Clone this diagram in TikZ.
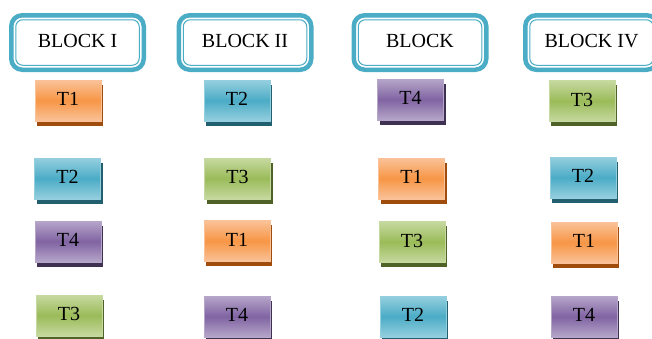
\documentclass[tikz,border=0pt]{standalone}
\usepackage{fontspec}
\setmainfont{Liberation Serif}
\usetikzlibrary{shadows}
\definecolor{frame}{HTML}{4BACC6}
\definecolor{orM}{HTML}{F79646}\definecolor{orL}{HTML}{FAC298}\definecolor{orD}{HTML}{A04C0C}
\definecolor{blM}{HTML}{4BACC6}\definecolor{blL}{HTML}{95CFDF}\definecolor{blD}{HTML}{22606F}
\definecolor{grM}{HTML}{9BBB59}\definecolor{grL}{HTML}{C6D9A0}\definecolor{grD}{HTML}{4F6228}
\definecolor{puM}{HTML}{8064A2}\definecolor{puL}{HTML}{B6A6CA}\definecolor{puD}{HTML}{3F3151}
\tikzset{
  blockbox/.style={draw=frame, line width=4.5pt, rounded corners=11pt, fill=white,
    minimum width=132.5pt, minimum height=54.5pt, inner sep=0pt},
  innerframe/.style={draw=frame, line width=1pt, rounded corners=7pt,
    minimum width=123.5pt, minimum height=45.5pt, inner sep=0pt,
    text height=14pt, text depth=4pt,
    font=\fontsize{20}{24}\selectfont},
  tbox/.style={minimum width=66pt, minimum height=41pt, inner sep=0pt, line width=1pt,
    text height=14pt, text depth=3.5pt,
    font=\fontsize{20}{24}\selectfont},
  tone/.style={tbox, draw=#1L, top color=#1L, bottom color=#1L, middle color=#1M,
    drop shadow={shadow xshift=2pt, shadow yshift=-4.5pt, fill=#1D, opacity=1}},
  Tone/.style={tone=or}, Ttwo/.style={tone=bl}, Tthree/.style={tone=gr}, Tfour/.style={tone=pu}
}
\begin{document}
\begin{tikzpicture}[x=1pt,y=-1pt]
\useasboundingbox (0,0) rectangle (652,338);
% blocks: thick outer frame, thin inner frame with the label
\node[blockbox] (b1) at (77.5,42.5) {};
\node[blockbox] (b2) at (245,42.5) {};
\node[blockbox] (b3) at (420,42.5) {};
\node[blockbox] (b4) at (591.5,42.5) {};
\node[innerframe] (b1i) at (b1.center) {BLOCK I};
\node[innerframe] (b2i) at (b2.center) {BLOCK II};
\node[innerframe] (b3i) at (b3.center) {BLOCK};
\node[innerframe] (b4i) at (b4.center) {BLOCK IV};
% column 1
\node[Tone]   (c1r1) at (68,100.5) {T1};
\node[Ttwo]   (c1r2) at (67.5,178.5) {T2};
\node[Tfour]  (c1r3) at (68,241.5) {T4};
\node[Tthree] (c1r4) at (69,315.5) {T3};
% column 2
\node[Ttwo]   (c2r1) at (237,100.5) {T2};
\node[Tthree] (c2r2) at (237.5,178.5) {T3};
\node[Tone]   (c2r3) at (237,241) {T1};
\node[Tfour]  (c2r4) at (237,316.5) {T4};
% column 3
\node[Tfour]  (c3r1) at (410.5,99.5) {T4};
\node[Tone]   (c3r2) at (411.5,178.5) {T1};
\node[Tthree] (c3r3) at (412,242) {T3};
\node[Ttwo]   (c3r4) at (413,316.5) {T2};
% column 4
\node[Tthree] (c4r1) at (582,101) {T3};
\node[Ttwo]   (c4r2) at (583,177.5) {T2};
\node[Tone]   (c4r3) at (584,242.5) {T1};
\node[Tfour]  (c4r4) at (584,316.5) {T4};
\end{tikzpicture}
\end{document}
